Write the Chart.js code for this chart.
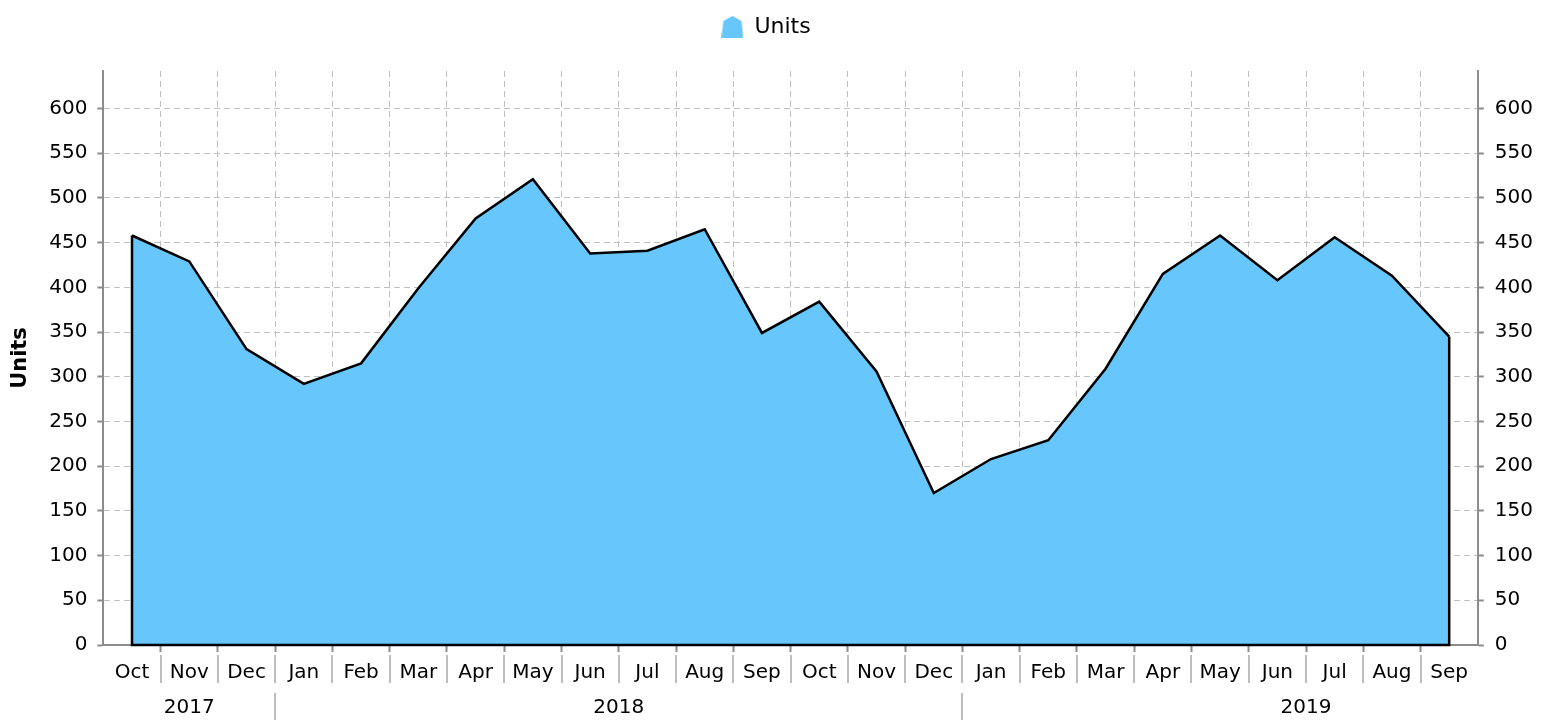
<!DOCTYPE html>
<html>
<head>
<meta charset="utf-8">
<title>Units</title>
<script src="https://cdn.jsdelivr.net/npm/chart.js@4"></script>
<style>
  html, body { margin: 0; padding: 0; background: #ffffff; }
  #wrap { width: 1550px; height: 720px; }
</style>
</head>
<body>
<div id="wrap"><canvas id="unitsChart" width="1550" height="720"></canvas></div>
<script>
// Oct 2017 .. Sep 2019
const months = ['Oct', 'Nov', 'Dec', 'Jan', 'Feb', 'Mar', 'Apr', 'May', 'Jun', 'Jul', 'Aug', 'Sep',
                'Oct', 'Nov', 'Dec', 'Jan', 'Feb', 'Mar', 'Apr', 'May', 'Jun', 'Jul', 'Aug', 'Sep'];
const units = [458, 429, 331, 292, 315, 399, 477, 521, 438, 441, 465, 349,
               384, 306, 170, 208, 229, 309, 415, 458, 408, 456, 413, 345];
const yearLabels = ['2017', '2018', '2019'];
const yearCenterIndex = [1, 8.5, 20.5];   // where the year label sits on the month axis
const yearBreakIndex = [2.5, 14.5];       // Dec | Jan boundaries
const yTicks = [0, 50, 100, 150, 200, 250, 300, 350, 400, 450, 500, 550, 600];

const FONT = "'DejaVu Sans', sans-serif";
const FILL = '#67c6fb';
const GRID = '#c0c0c0';

// shield shaped legend marker
function makeMarker() {
  const c = document.createElement('canvas');
  c.width = 22;
  c.height = 22;
  const g = c.getContext('2d');
  g.fillStyle = FILL;
  g.beginPath();
  g.moveTo(11, 0);
  g.lineTo(20, 5);
  g.lineTo(22, 22);
  g.lineTo(0, 22);
  g.lineTo(2, 5);
  g.closePath();
  g.fill();
  return c;
}

// more room between legend and plot, legend nudged a bit left
const legendGap = {
  id: 'legendGap',
  beforeInit(chart) {
    const fit = chart.legend.fit;
    chart.legend.fit = function () {
      fit.call(this);
      this.height += 23;
    };
  },
  afterLayout(chart) {
    chart.legend.left -= 20;
  }
};

// vertical ends of the area + separators under the month / year labels
const axisDecor = {
  id: 'axisDecor',
  afterDatasetsDraw(chart) {
    const ctx = chart.ctx;
    const meta = chart.getDatasetMeta(0);
    const y0 = chart.scales.y.getPixelForValue(0);
    const first = meta.data[0];
    const last = meta.data[meta.data.length - 1];
    ctx.save();
    ctx.strokeStyle = '#000000';
    ctx.lineWidth = 2.5;
    ctx.beginPath();
    ctx.moveTo(first.x, first.y);
    ctx.lineTo(first.x, y0);
    ctx.lineTo(last.x, y0);
    ctx.lineTo(last.x, last.y);
    ctx.stroke();
    ctx.restore();
  },
  afterDraw(chart) {
    const ctx = chart.ctx;
    const x = chart.scales.x;
    const bottom = chart.chartArea.bottom;
    ctx.save();
    ctx.strokeStyle = '#a8a8a8';
    ctx.lineWidth = 1.5;
    for (let i = 1; i < months.length; i++) {
      const px = Math.round(x.getPixelForValue(i - 0.5));
      ctx.beginPath();
      ctx.moveTo(px, bottom + 10);
      ctx.lineTo(px, bottom + 38);
      ctx.stroke();
    }
    yearBreakIndex.forEach(v => {
      const px = Math.round(x.getPixelForValue(v));
      ctx.beginPath();
      ctx.moveTo(px, bottom + 48);
      ctx.lineTo(px, bottom + 76);
      ctx.stroke();
    });
    ctx.fillStyle = '#000000';
    ctx.font = '20px ' + FONT;
    ctx.textAlign = 'center';
    ctx.textBaseline = 'middle';
    yearLabels.forEach((label, i) => {
      ctx.fillText(label, x.getPixelForValue(yearCenterIndex[i]), bottom + 63);
    });
    ctx.restore();
  }
};

const yAxisCommon = {
  min: 0,
  max: 642,
  afterBuildTicks: axis => { axis.ticks = yTicks.map(v => ({ value: v })); },
  border: { display: true, color: '#8c8c8c', width: 2, dash: [6, 4] }
};

new Chart(document.getElementById('unitsChart'), {
  type: 'line',
  data: {
    labels: months,
    datasets: [{
      label: 'Units',
      data: units,
      borderColor: '#000000',
      borderWidth: 2.5,
      backgroundColor: FILL,
      fill: 'origin',
      tension: 0,
      pointRadius: 0,
      pointStyle: makeMarker()
    }]
  },
  options: {
    responsive: false,
    animation: false,
    layout: { padding: { top: 2, left: 8, right: 6, bottom: 26 } },
    plugins: {
      legend: {
        display: true,
        position: 'top',
        labels: {
          usePointStyle: true,
          color: '#000000',
          padding: 14,
          font: { family: FONT, size: 22 }
        }
      },
      tooltip: { enabled: false }
    },
    scales: {
      x: {
        type: 'category',
        offset: true,
        grid: {
          offset: true,
          color: GRID,
          lineWidth: 1,
          tickLength: 7,
          tickWidth: 2,
          tickColor: c => (c.index === 0 || c.index === undefined) ? 'rgba(0,0,0,0)' : '#8c8c8c'
        },
        border: { display: true, color: '#8c8c8c', width: 2, dash: [6, 4] },
        ticks: {
          color: '#000000',
          padding: 9,
          maxRotation: 0,
          autoSkip: false,
          font: { family: FONT, size: 20 }
        }
      },
      y: {
        ...yAxisCommon,
        position: 'left',
        grid: { color: GRID, lineWidth: 1, tickLength: 6, tickWidth: 2, tickColor: '#8c8c8c' },
        ticks: { color: '#000000', padding: 10, font: { family: FONT, size: 20 } },
        title: {
          display: true,
          text: 'Units',
          color: '#000000',
          padding: { top: 0, bottom: 6 },
          font: { family: FONT, size: 21, weight: 'bold' }
        }
      },
      y2: {
        ...yAxisCommon,
        position: 'right',
        grid: { drawOnChartArea: false, tickLength: 6, tickWidth: 2, tickColor: '#8c8c8c' },
        ticks: { color: '#000000', padding: 11, font: { family: FONT, size: 20 } }
      }
    }
  },
  plugins: [legendGap, axisDecor]
});
</script>
</body>
</html>
